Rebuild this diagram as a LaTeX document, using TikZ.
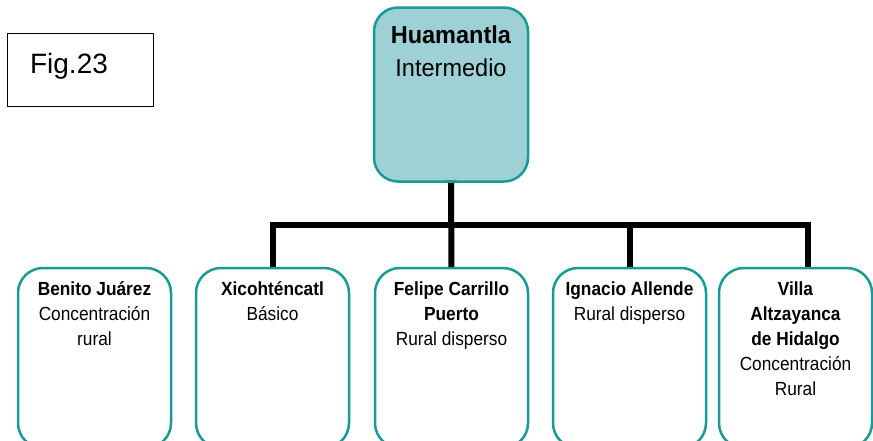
\documentclass[tikz,border=0pt]{standalone}
\usepackage{fontspec}
\setmainfont{Liberation Sans}
\newfontfamily\topfont[FakeStretch=0.96]{Liberation Sans}
\newfontfamily\boxfont[FakeStretch=0.91]{Liberation Sans}
\definecolor{tealborder}{HTML}{1A9A96}
\definecolor{tealfill}{HTML}{9ED1D5}
\begin{document}
\begin{tikzpicture}[x=1pt,y=-1pt,
  topbox/.style={draw=tealborder,fill=tealfill,line width=2.5pt,rounded corners=24pt,
    minimum width=154pt,minimum height=174pt,inner sep=0pt,outer sep=0pt,anchor=north west},
  leafbox/.style={draw=tealborder,fill=white,line width=2.5pt,rounded corners=25pt,
    minimum width=153pt,minimum height=180pt,inner sep=0pt,outer sep=0pt,anchor=north west},
  toptext/.style={anchor=north,inner sep=0pt,align=center,font=\topfont\fontsize{24.5}{33}\selectfont},
  leaftext/.style={anchor=north,inner sep=0pt,align=center,font=\boxfont\fontsize{19}{25}\selectfont},
  figbox/.style={draw=black,line width=1pt,minimum width=146pt,minimum height=73pt,inner sep=0pt,outer sep=0pt,anchor=north west},
  bar/.style={line width=6pt,draw=black,line join=miter},
  edgefix/.style={tealborder,line width=2.5pt}]
\clip (0,0) rectangle (873,440);
\fill[white] (0,0) rectangle (873,440);
% figure label
\node[figbox] (fig) at (7,33) {};
\node[anchor=base,inner sep=0pt,font=\fontsize{28}{33}\selectfont] (figtext) at (69,73) {Fig.23};
% top box
\node[topbox] (top) at (374,7.5) {};
\node[toptext] (toplbl) at (451,20) {\strut\textbf{Huamantla}\\Intermedio};
% leaf boxes
\node[leafbox] (b1) at (18,268) {};
\node[leafbox] (b2) at (196,268) {};
\node[leafbox] (b3) at (375,268) {};
\node[leafbox] (b4) at (553,268) {};
\node[leafbox] (b5) at (719,268) {};
\coordinate (bus) at (451,224.5);
\coordinate (b5in) at (807.7,268);
% connectors
\draw[bar] (b2.north) -- (b2.north |- bus) -- (b5in |- bus) -- (b5in);
\draw[bar] (top.south) -- (b3.north);
\draw[bar] (b4.north) -- (b4.north |- bus);
% box borders drawn over connector ends
\foreach \b in {b2,b3,b4}{\draw[edgefix] ([xshift=-6pt]\b.north) -- ([xshift=6pt]\b.north);}
\draw[edgefix] ([xshift=-6pt]b5in) -- ([xshift=6pt]b5in);
\draw[edgefix] ([xshift=-6pt]top.south) -- ([xshift=6pt]top.south);
% texts
\node[leaftext] (t1) at (b1.north |- 0,277.5) {\strut\textbf{Benito Juárez}\\Concentración\\rural};
\node[leaftext] (t2) at (b2.north |- 0,277.5) {\strut\textbf{Xicohténcatl}\\Básico};
\node[leaftext] (t3) at (b3.north |- 0,277.5) {\strut\textbf{Felipe Carrillo}\\\textbf{Puerto}\\Rural disperso};
\node[leaftext] (t4) at (b4.north |- 0,277.5) {\strut\textbf{Ignacio Allende}\\Rural disperso};
\node[leaftext] (t5) at (b5.north |- 0,277.5) {\strut\textbf{Villa}\\\textbf{Altzayanca}\\\textbf{de Hidalgo}\\Concentración\\Rural};
\end{tikzpicture}
\end{document}
